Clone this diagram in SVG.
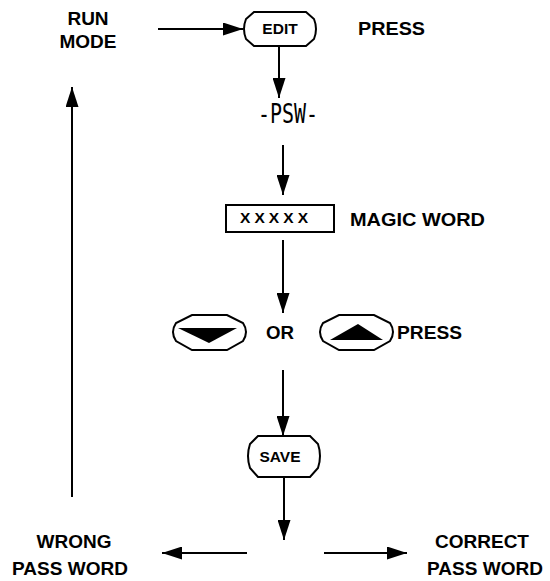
<svg xmlns="http://www.w3.org/2000/svg" width="550" height="581" viewBox="0 0 550 581">
<style>
.t{font-family:"Liberation Sans",Arial,sans-serif;font-weight:bold;fill:#000}
.b{font-size:19px}
.s{font-size:15.5px}
.ln{stroke:#000;stroke-width:2;fill:none}
.sh{fill:#fff;stroke:#000;stroke-width:2}
</style>
<defs>
<marker id="ah" markerUnits="userSpaceOnUse" markerWidth="20" markerHeight="13" refX="20" refY="6.5" orient="auto">
<path d="M0,0 L20,6.5 L0,13 Z" fill="#000"/>
</marker>
</defs>
<rect width="550" height="581" fill="#fff"/>
<g id="connectors">
<line class="ln" x1="158" y1="29" x2="243" y2="29" marker-end="url(#ah)"/>
<line class="ln" x1="279" y1="46" x2="279" y2="98" marker-end="url(#ah)"/>
<line class="ln" x1="283" y1="145" x2="283" y2="195" marker-end="url(#ah)"/>
<line class="ln" x1="283" y1="240" x2="283" y2="313" marker-end="url(#ah)"/>
<line class="ln" x1="283" y1="370" x2="283" y2="436" marker-end="url(#ah)"/>
<line class="ln" x1="284" y1="477" x2="284" y2="540" marker-end="url(#ah)"/>
<line class="ln" x1="247" y1="553" x2="162" y2="553" marker-end="url(#ah)"/>
<line class="ln" x1="324" y1="553" x2="407" y2="553" marker-end="url(#ah)"/>
<line class="ln" x1="72" y1="497" x2="72" y2="87" marker-end="url(#ah)"/>
</g>
<g id="run-mode">
<text class="t b" x="88" y="25" text-anchor="middle">RUN</text>
<text class="t b" x="88" y="48" text-anchor="middle">MODE</text>
</g>
<g id="edit">
<path class="sh" d="M254,12 H306 L314,19 Q318,29 314,39 L306,46 H254 L246,39 Q242,29 246,19 Z"/>
<text class="t s" x="280" y="34" text-anchor="middle">EDIT</text>
</g>
<g id="press-top">
<text class="t b" x="358" y="35" textLength="67" lengthAdjust="spacingAndGlyphs">PRESS</text>
</g>
<g id="psw">
<text x="288" y="123" text-anchor="middle" font-family="'DejaVu Sans Mono',monospace" font-size="26" textLength="60" lengthAdjust="spacingAndGlyphs">-PSW-</text>
</g>
<g id="magic-word">
<rect class="sh" x="226" y="205" width="108" height="27"/>
<text class="t" x="240" y="223" font-size="15.5" textLength="68" lengthAdjust="spacing">XXXXX</text>
<text class="t b" x="350" y="226" textLength="135" lengthAdjust="spacingAndGlyphs">MAGIC WORD</text>
</g>
<g id="down-key">
<path class="sh" d="M192,315 H227 L243,323 Q249,332 243,341 L227,350 H192 L176,341 Q170,332 176,323 Z"/>
<path d="M178,328 H237 L209,343 Z" fill="#000"/>
</g>
<g id="or">
<text class="t b" x="266" y="339" textLength="28" lengthAdjust="spacingAndGlyphs">OR</text>
</g>
<g id="up-key">
<path class="sh" d="M339,315 H374 L390,323 Q396,332 390,341 L374,350 H339 L323,341 Q317,332 323,323 Z"/>
<path d="M330,340 H383 L358,324 Z" fill="#000"/>
</g>
<g id="press-mid">
<text class="t b" x="397" y="339" textLength="65" lengthAdjust="spacingAndGlyphs">PRESS</text>
</g>
<g id="save">
<path class="sh" d="M258,436 H310 L318,444 Q322,456 318,468 L310,477 H258 L250,468 Q246,456 250,444 Z"/>
<text class="t s" x="280" y="462" text-anchor="middle">SAVE</text>
</g>
<g id="wrong">
<text class="t b" x="74" y="548" text-anchor="middle">WRONG</text>
<text class="t b" x="70" y="575" text-anchor="middle">PASS WORD</text>
</g>
<g id="correct">
<text class="t b" x="482" y="548" text-anchor="middle">CORRECT</text>
<text class="t b" x="485" y="575" text-anchor="middle">PASS WORD</text>
</g>
</svg>
